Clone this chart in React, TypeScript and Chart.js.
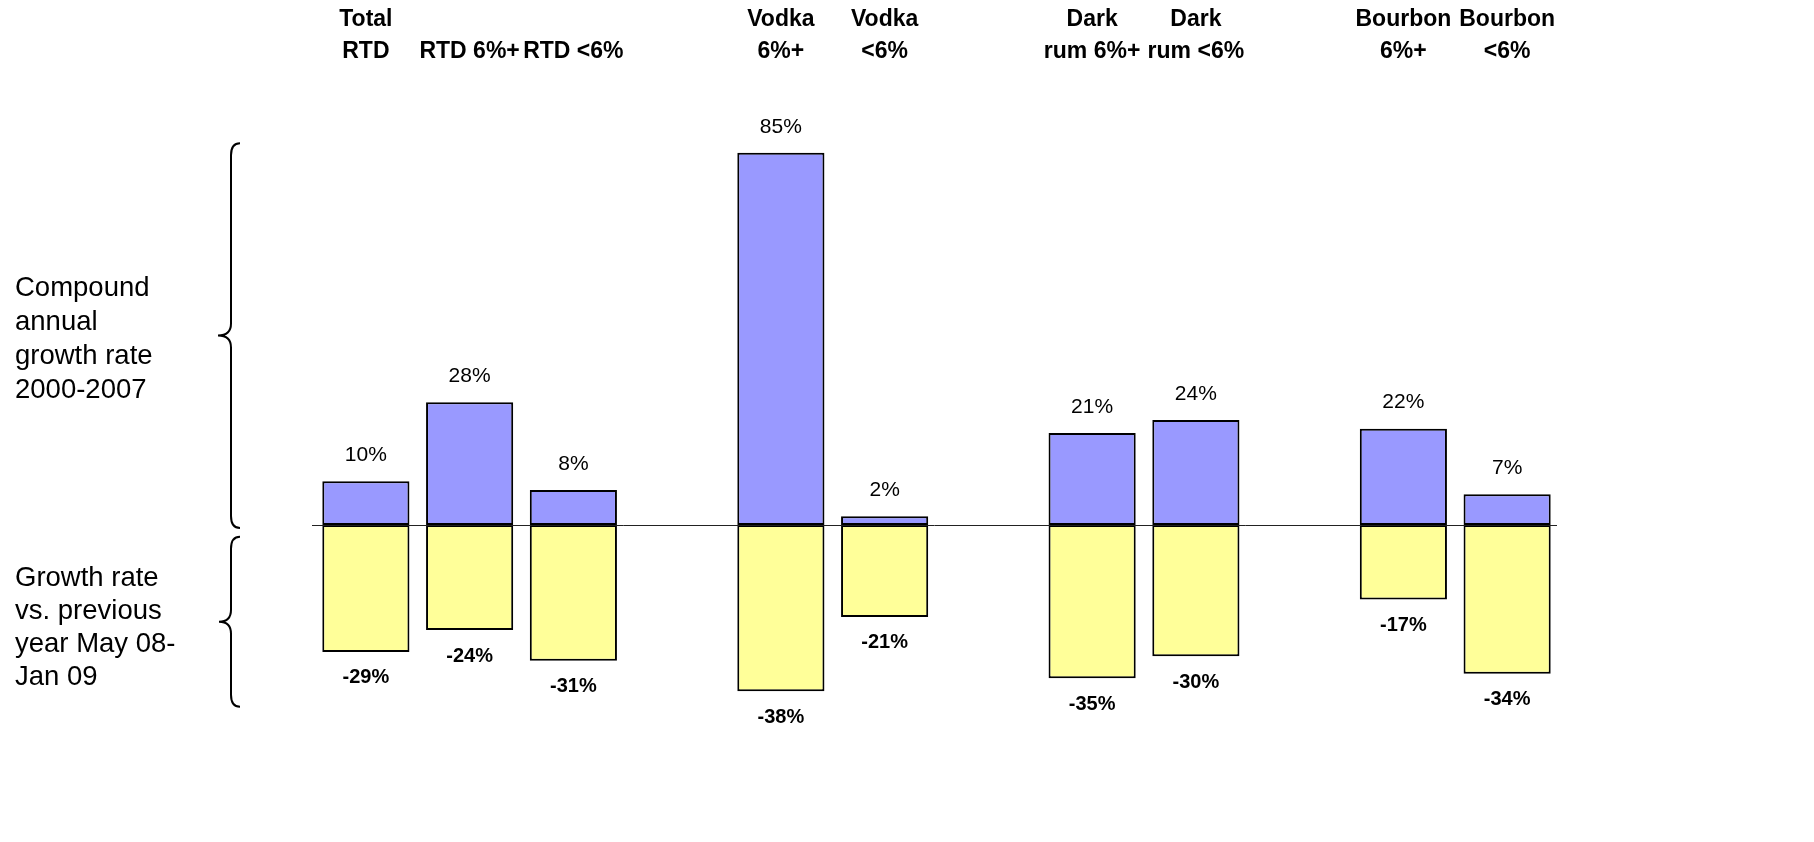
import React, { useEffect, useRef } from "react";
import { Chart, registerables } from "chart.js";

Chart.register(...registerables);

const categoryLines: string[][] = [
  ["Total", "RTD"],
  ["RTD 6%+"],
  ["RTD <6%"],
  [],
  ["Vodka", "6%+"],
  ["Vodka", "<6%"],
  [],
  ["Dark", "rum 6%+"],
  ["Dark", "rum <6%"],
  [],
  ["Bourbon", "6%+"],
  ["Bourbon", "<6%"],
];

const cagr2000to2007: (number | null)[] = [10, 28, 8, null, 85, 2, null, 21, 24, null, 22, 7];
const growthMay08Jan09: (number | null)[] = [-29, -24, -31, null, -38, -21, null, -35, -30, null, -17, -34];

const topSideText = ["Compound", "annual", "growth rate", "2000-2007"];
const bottomSideText = ["Growth rate", "vs. previous", "year May 08-", "Jan 09"];

const FONT = '"Liberation Sans", Arial, Helvetica, sans-serif';

function drawBrace(ctx: CanvasRenderingContext2D, x: number, tipX: number, y1: number, y2: number) {
  const ym = (y1 + y2) / 2;
  const r = 12;
  ctx.beginPath();
  ctx.moveTo(x + 9, y1);
  ctx.quadraticCurveTo(x, y1, x, y1 + r);
  ctx.lineTo(x, ym - r);
  ctx.quadraticCurveTo(x, ym, tipX, ym);
  ctx.quadraticCurveTo(x, ym, x, ym + r);
  ctx.lineTo(x, y2 - r);
  ctx.quadraticCurveTo(x, y2, x + 9, y2);
  ctx.stroke();
}

const overlayPlugin = {
  id: "overlay",
  afterDatasetsDraw(chart: any) {
    const ctx: CanvasRenderingContext2D = chart.ctx;
    const { chartArea } = chart;
    const xs = chart.scales.x;
    const ys = chart.scales.y;
    const y0 = ys.getPixelForValue(0);
    ctx.save();
    // zero line
    ctx.strokeStyle = "#222";
    ctx.lineWidth = 1;
    ctx.beginPath();
    ctx.moveTo(chartArea.left - 2, Math.round(y0) + 0.5);
    ctx.lineTo(chartArea.right - 2, Math.round(y0) + 0.5);
    ctx.stroke();

    // value labels
    ctx.fillStyle = "#000";
    ctx.textAlign = "center";
    ctx.textBaseline = "middle";
    chart.data.datasets.forEach((ds: any, di: number) => {
      const meta = chart.getDatasetMeta(di);
      meta.data.forEach((el: any, i: number) => {
        const v = ds.data[i];
        if (v === null || v === undefined) return;
        if (v >= 0) {
          ctx.font = `21px ${FONT}`;
          ctx.fillText(`${v}%`, el.x, el.y - 26);
        } else {
          ctx.font = `bold 20px ${FONT}`;
          ctx.fillText(`${v}%`, el.x, el.y + 26);
        }
      });
    });

    // category labels at top
    ctx.font = `bold 23px ${FONT}`;
    categoryLines.forEach((lines, i) => {
      const x = xs.getPixelForValue(i);
      const n = lines.length;
      lines.forEach((t, li) => {
        const y = 52 - (n - 1 - li) * 32;
        ctx.fillText(t, x, y);
      });
    });

    // braces
    ctx.strokeStyle = "#000";
    ctx.lineWidth = 2;
    const bx = 231;
    const tTop = ys.getPixelForValue(87.2);
    const tBot = ys.getPixelForValue(-0.7);
    drawBrace(ctx, bx, 218, tTop, tBot);
    const bTop = ys.getPixelForValue(-2.7);
    const bBot = ys.getPixelForValue(-41.5);
    drawBrace(ctx, bx, 219, bTop, bBot);

    // side text
    ctx.textAlign = "left";
    ctx.font = `27.5px ${FONT}`;
    const mid1 = (tTop + tBot) / 2 + 4;
    topSideText.forEach((t, i) => ctx.fillText(t, 15, mid1 + (i - 1.5) * 34));
    const mid2 = (bTop + bBot) / 2 + 6;
    bottomSideText.forEach((t, i) => ctx.fillText(t, 15, mid2 + (i - 1.5) * 33));
    ctx.restore();
  },
};

export default function App() {
  const ref = useRef<HTMLCanvasElement | null>(null);
  useEffect(() => {
    if (!ref.current) return;
    const chart = new Chart(ref.current, {
      type: "bar",
      data: {
        labels: categoryLines.map((l, i) => l.join(" ") || `gap${i}`),
        datasets: [
          {
            label: "Compound annual growth rate 2000-2007",
            data: cagr2000to2007,
            backgroundColor: "#9999FF",
            borderColor: "#000",
            borderWidth: 2,
            borderSkipped: false,
            barPercentage: 0.84,
            categoryPercentage: 1,
          },
          {
            label: "Growth rate vs. previous year May 08-Jan 09",
            data: growthMay08Jan09,
            backgroundColor: "#FFFF99",
            borderColor: "#000",
            borderWidth: 2,
            borderSkipped: false,
            barPercentage: 0.84,
            categoryPercentage: 1,
          },
        ],
      },
      options: {
        responsive: false,
        animation: false,
        devicePixelRatio: 1,
        layout: { padding: { left: 314, right: 255, top: 109, bottom: 120 } },
        plugins: { legend: { display: false }, tooltip: { enabled: false } },
        scales: {
          x: { display: false, stacked: true },
          y: { display: false, stacked: true, min: -45, max: 95 },
        },
      },
      plugins: [overlayPlugin],
    });
    return () => chart.destroy();
  }, []);
  return (
    <div style={{ position: "fixed", left: 0, top: 0, width: 1814, height: 842, background: "#fff" }}>
      <canvas ref={ref} width={1814} height={842} style={{ width: 1814, height: 842, display: "block" }} />
    </div>
  );
}
